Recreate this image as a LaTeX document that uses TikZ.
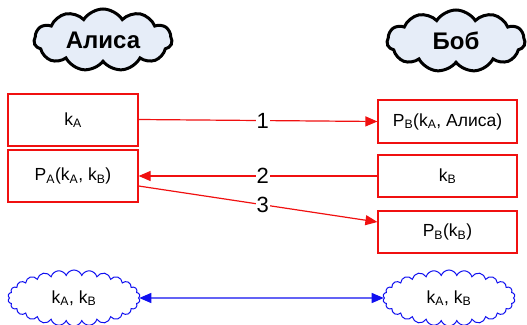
\documentclass[tikz,border=0pt]{standalone}
\usepackage{fontspec}
\setmainfont{Liberation Sans}
\usetikzlibrary{shapes.symbols,arrows.meta}
\definecolor{cloudfill}{HTML}{E6EDF8}
\definecolor{boxred}{HTML}{F01010}
\definecolor{keyblue}{HTML}{1010F0}
\begin{document}
\begin{tikzpicture}[x=1pt,y=-1pt,
  party/.style={cloud, cloud puffs=11, cloud puff arc=115, cloud ignores aspect,
    draw=black, line width=3pt, fill=cloudfill,
    minimum width=138pt, minimum height=62pt, font=\bfseries\fontsize{24}{28}\selectfont},
  msgbox/.style={draw=boxred, line width=1.2pt, fill=white,
    minimum width=130pt, font=\fontsize{17.5}{20}\selectfont},
  keycloud/.style={cloud, cloud puffs=26, cloud puff arc=140, cloud ignores aspect,
    draw=keyblue, line width=1pt, fill=white,
    minimum width=132pt, minimum height=56pt, font=\fontsize{17.5}{20}\selectfont},
  tip/.style={Triangle[length=12pt,width=10pt]},
  msg/.style={draw=boxred, line width=1.2pt, -{Triangle[length=12pt,width=10pt]}},
  num/.style={fill=white, inner sep=1pt, font=\fontsize{22}{26}\selectfont}]
\useasboundingbox (0,0) rectangle (527,324);

% participants
\node[party] (alice) at (103,40) {Алиса};
\node[party] (bob) at (456,41) {Боб};

% Alice's side
\node[msgbox, minimum height=52pt] (ka) at (73,120) {k\textsubscript{A}};
\node[msgbox, minimum height=52pt] (pa) at (73,176) {P\textsubscript{A}(k\textsubscript{A}, k\textsubscript{B})};

% Bob's side
\node[msgbox, minimum width=139pt, minimum height=43pt] (pb1) at (447.5,121.5) {P\textsubscript{B}(k\textsubscript{A}, Алиса)};
\node[msgbox, minimum width=139pt, minimum height=42pt] (kb) at (447.5,176) {k\textsubscript{B}};
\node[msgbox, minimum width=139pt, minimum height=42pt] (pb2) at (447.5,232) {P\textsubscript{B}(k\textsubscript{B})};

% messages
\draw[msg] ([yshift=0.5pt]ka.east) -- (pb1.west) node[num, pos=0.52] {1};
\draw[msg] (kb.west) -- (pa.east) node[num, pos=0.48] {2};
\draw[msg] ([yshift=-10pt]pa.east) -- ([yshift=10pt]pb2.west) node[num, pos=0.52] {3};

% shared keys
\node[keycloud] (sa) at (74,298) {k\textsubscript{A}, k\textsubscript{B}};
\node[keycloud] (sb) at (449,298) {k\textsubscript{A}, k\textsubscript{B}};
\draw[draw=keyblue, line width=1.2pt, {Triangle[length=12pt,width=10pt]}-{Triangle[length=12pt,width=10pt]}] (sa.east) -- (sb.west);
\end{tikzpicture}
\end{document}
